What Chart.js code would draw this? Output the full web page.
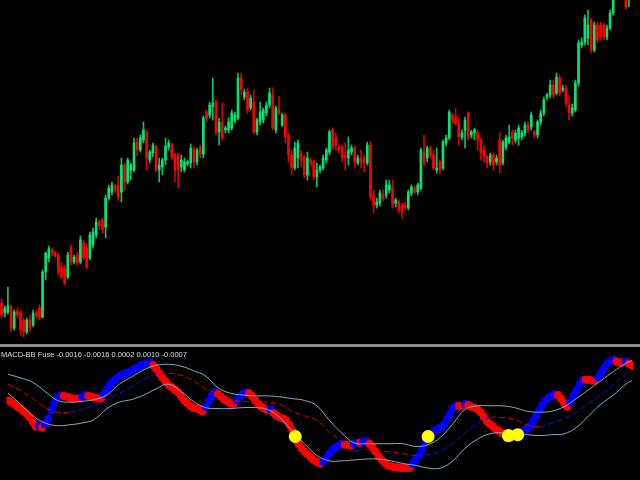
<!DOCTYPE html>
<html>
<head>
<meta charset="utf-8">
<script src="https://cdn.jsdelivr.net/npm/chart.js@4.4.1/dist/chart.umd.min.js"></script>
<style>
  html, body { margin: 0; padding: 0; background: #000; }
  #wrap { position: relative; width: 640px; height: 480px; overflow: hidden; background: #000; }
  #price-chart { position: absolute; left: 0; top: 0; }
  #sep { position: absolute; left: 0; top: 344px; width: 640px; height: 3px; background: #8c8c8c; }
  #macd-chart { position: absolute; left: 0; top: 347px; }
  #macd-label {
    position: absolute; left: 1px; top: 351px; z-index: 2;
    font: 7.5px 'Liberation Sans', Arial, sans-serif; line-height: 7.5px;
    color: #dcdcdc; white-space: nowrap;
  }
</style>
</head>
<body>
<div id="wrap">
  <canvas id="price-chart" width="640" height="344"></canvas>
  <div id="sep"></div>
  <canvas id="macd-chart" width="640" height="133"></canvas>
  <div id="macd-label">MACD-BB Fuse -0.0016 -0.0016 0.0002 0.0010 -0.0007</div>
</div>
<script>
//
// Price data (points, x0.0001)
//
const opens = [
  10897, 10887, 10888, 10893, 10872, 10889, 10887, 10880, 10868, 10880,
  10875, 10887, 10892, 10883, 10928, 10942, 10950, 10947, 10945, 10933,
  10932, 10923, 10952, 10938, 10945, 10938, 10957, 10952, 10942, 10955,
  10965, 10978, 10980, 10973, 11002, 11008, 11014, 11015, 11008, 11035,
  11018, 11030, 11030, 11058, 11050, 11060, 11068, 11040, 11047, 11053,
  11030, 11033, 11040, 11053, 11055, 11045, 11045, 11033, 11030, 11036,
  11037, 11051, 11038, 11053, 11046, 11088, 11085, 11093, 11098, 11068,
  11077, 11070, 11070, 11072, 11080, 11082, 11122, 11103, 11108, 11092,
  11098, 11068, 11078, 11080, 11087, 11095, 11105, 11070, 11090, 11075,
  11085, 11065, 11045, 11032, 11042, 11047, 11043, 11025, 11040, 11038,
  11023, 11030, 11032, 11040, 11048, 11070, 11063, 11053, 11053, 11045,
  11042, 11048, 11052, 11037, 11042, 11042, 11037, 11055, 11005, 10995,
  10997, 11005, 11005, 11010, 11012, 10997, 10998, 10995, 10995, 10992,
  11007, 11012, 11008, 11012, 11048, 11042, 11052, 11045, 11030, 11038,
  11032, 11057, 11062, 11085, 11083, 11077, 11063, 11070, 11087, 11065,
  11067, 11068, 11060, 11050, 11043, 11038, 11045, 11038, 11060, 11037,
  11053, 11058, 11068, 11060, 11062, 11063, 11067, 11075, 11073, 11068,
  11065, 11078, 11087, 11103, 11105, 11115, 11107, 11122, 11110, 11112,
  11095, 11087, 11090, 11117, 11155, 11158, 11162, 11180, 11150, 11175,
  11175, 11175, 11163, 11172, 11187, 11205, 11235, 11225, 11205, 11205,
  11220, 11240, 11228
];
const highs = [
  10901, 10894, 10913, 10895, 10890, 10892, 10890, 10882, 10882, 10885,
  10890, 10889, 10895, 10930, 10948, 10954, 10952, 10949, 10947, 10938,
  10935, 10948, 10955, 10945, 10948, 10964, 10960, 10956, 10968, 10972,
  10982, 10980, 10982, 11005, 11015, 11018, 11016, 11024, 11042, 11037,
  11042, 11037, 11062, 11062, 11065, 11078, 11070, 11050, 11057, 11055,
  11042, 11042, 11062, 11060, 11057, 11047, 11047, 11045, 11042, 11040,
  11056, 11053, 11052, 11055, 11084, 11090, 11098, 11122, 11100, 11082,
  11097, 11074, 11082, 11090, 11088, 11127, 11127, 11111, 11112, 11105,
  11110, 11082, 11098, 11092, 11098, 11112, 11112, 11094, 11104, 11087,
  11087, 11067, 11050, 11058, 11060, 11050, 11045, 11048, 11042, 11040,
  11037, 11035, 11045, 11052, 11070, 11072, 11067, 11055, 11055, 11057,
  11063, 11055, 11054, 11045, 11050, 11045, 11058, 11058, 11010, 11002,
  11010, 11010, 11020, 11020, 11020, 11002, 11000, 10997, 10998, 11010,
  11015, 11014, 11017, 11052, 11065, 11054, 11054, 11050, 11052, 11040,
  11060, 11065, 11090, 11087, 11092, 11082, 11070, 11083, 11088, 11070,
  11072, 11070, 11062, 11055, 11045, 11047, 11047, 11045, 11067, 11060,
  11065, 11075, 11070, 11070, 11075, 11070, 11078, 11078, 11088, 11070,
  11080, 11090, 11103, 11107, 11120, 11120, 11127, 11125, 11115, 11115,
  11105, 11096, 11120, 11160, 11162, 11185, 11190, 11182, 11178, 11178,
  11178, 11177, 11175, 11190, 11210, 11235, 11238, 11230, 11210, 11225,
  11245, 11248, 11250
];
const lows = [
  10882, 10883, 10886, 10868, 10870, 10882, 10865, 10863, 10866, 10869,
  10873, 10882, 10880, 10882, 10920, 10938, 10944, 10942, 10925, 10921,
  10915, 10921, 10935, 10936, 10935, 10936, 10940, 10931, 10940, 10952,
  10962, 10970, 10967, 10962, 11000, 11005, 11007, 11000, 10998, 11010,
  11016, 11020, 11028, 11044, 11048, 11057, 11030, 11037, 11043, 11028,
  11018, 11025, 11035, 11050, 11040, 11018, 11012, 11028, 11028, 11034,
  11032, 11032, 11035, 11042, 11042, 11078, 11082, 11080, 11065, 11055,
  11060, 11067, 11067, 11070, 11077, 11080, 11105, 11100, 11087, 11090,
  11066, 11065, 11075, 11077, 11084, 11092, 11070, 11067, 11085, 11073,
  11057, 11038, 11025, 11030, 11032, 11033, 11022, 11020, 11034, 11020,
  11013, 11027, 11030, 11037, 11045, 11050, 11050, 11047, 11038, 11030,
  11035, 11045, 11032, 11035, 11032, 11028, 11035, 11001, 10987, 10992,
  10994, 10999, 11002, 11007, 10992, 10993, 10987, 10982, 10990, 10990,
  11004, 11006, 11005, 11010, 11034, 11038, 11042, 11030, 11027, 11026,
  11030, 11054, 11060, 11077, 11075, 11055, 11060, 11052, 11060, 11062,
  11060, 11050, 11040, 11038, 11032, 11035, 11030, 11035, 11027, 11035,
  11050, 11056, 11055, 11057, 11055, 11060, 11064, 11067, 11070, 11062,
  11062, 11075, 11084, 11100, 11102, 11102, 11105, 11104, 11108, 11093,
  11080, 11084, 11088, 11114, 11152, 11155, 11155, 11147, 11148, 11157,
  11160, 11160, 11160, 11170, 11185, 11202, 11210, 11203, 11191, 11193,
  11215, 11222, 11225
];
const closes = [
  10885, 10892, 10894, 10872, 10888, 10885, 10870, 10868, 10880, 10872,
  10887, 10884, 10882, 10928, 10947, 10951, 10947, 10944, 10928, 10923,
  10917, 10945, 10938, 10943, 10937, 10960, 10942, 10933, 10965, 10968,
  10978, 10974, 10970, 11002, 11012, 11015, 11010, 11003, 11035, 11018,
  11040, 11035, 11057, 11050, 11062, 11070, 11042, 11048, 11055, 11030,
  11035, 11040, 11054, 11057, 11043, 11030, 11030, 11040, 11038, 11038,
  11052, 11038, 11050, 11046, 11082, 11081, 11095, 11097, 11068, 11078,
  11062, 11072, 11078, 11087, 11085, 11122, 11110, 11108, 11090, 11102,
  11068, 11080, 11088, 11090, 11095, 11107, 11072, 11092, 11087, 11085,
  11063, 11045, 11032, 11052, 11057, 11040, 11025, 11042, 11037, 11023,
  11030, 11033, 11042, 11050, 11068, 11053, 11055, 11050, 11043, 11042,
  11050, 11052, 11038, 11042, 11038, 11037, 11055, 11003, 10995, 10998,
  11007, 11002, 11015, 11015, 10995, 11000, 10990, 10988, 10992, 11008,
  11013, 11008, 11015, 11050, 11037, 11052, 11045, 11032, 11032, 11030,
  11058, 11062, 11088, 11080, 11077, 11063, 11067, 11080, 11063, 11068,
  11070, 11060, 11048, 11043, 11037, 11045, 11035, 11042, 11035, 11058,
  11062, 11063, 11062, 11067, 11072, 11067, 11075, 11070, 11085, 11065,
  11078, 11087, 11100, 11105, 11115, 11105, 11123, 11107, 11112, 11097,
  11087, 11092, 11117, 11157, 11158, 11182, 11175, 11150, 11175, 11160,
  11163, 11163, 11172, 11187, 11205, 11230, 11220, 11208, 11193, 11220,
  11240, 11228, 11245
];

//
// MACD-BB Fuse data
//
const macdValues = [
  21, 19, 17, 14, 12, 9, 6, 2, -3, -8,
  -7, -9, -5, 1, 10, 18, 24, 27, 26, 25,
  24, 23, 23, 23, 25, 27, 26, 25, 24, 23,
  23, 28, 33, 38, 42, 45, 48, 50, 51, 52,
  54, 56, 58, 60, 61, 62, 63, 60, 56, 51,
  46, 42, 38, 36, 33, 30, 26, 21, 18, 15,
  13, 12, 11, 9, 14, 20, 26, 30, 28, 25,
  22, 20, 18, 17, 21, 25, 28, 30, 29, 26,
  21, 17, 14, 12, 10, 11, 7, 4, 2, 1,
  -1, -6, -12, -19, -27, -32, -36, -39, -42, -45,
  -47, -49, -47, -43, -38, -34, -31, -29, -27, -28,
  -28, -29, -27, -26, -26, -25, -24, -27, -31, -36,
  -41, -45, -48, -51, -52, -53, -53, -54, -54, -54,
  -54, -49, -45, -40, -33, -26, -19, -15, -13, -11,
  -9, -6, 0, 6, 12, 15, 15, 15, 17, 16,
  14, 13, 11, 8, 3, -2, -5, -8, -11, -13,
  -15, -17, -18, -20, -19, -17, -15, -13, -10, -7,
  -2, 4, 10, 16, 21, 24, 26, 28, 27, 23,
  18, 14, 19, 26, 32, 38, 44, 44, 44, 43,
  43, 46, 51, 57, 62, 65, 66, 64, 63, 63,
  64, 62, 60
];
// bands sampled every 4 bars (last one on the final bar)
const bandStep = 4;
const upperBand = [50, 46, 41, 31, 21, 19, 20, 22, 27, 39, 47, 55, 60, 61, 59, 54, 48, 35, 29, 27,
  26, 26, 25, 23, 21, 15, -1, -15, -26, -27, -27, -27, -27, -30, -28, -20, -5, 11, 15, 15,
  15, 13, 9, 8, 9, 14, 23, 33, 43, 53, 62, 65];
const midBand = [39, 32, 23, 13, 8, 8, 11, 16, 21, 29, 36, 45, 50, 51, 49, 43, 34, 28, 22, 20,
  20, 19, 17, 9, 4, -1, -14, -24, -34, -33, -35, -36, -38, -40, -39, -35, -27, -15, -4, 2,
  2, 0, -6, -8, -4, 1, 8, 18, 27, 39, 50, 54];
const lowerBand = [29, 17, 4, -4, -7, -6, -4, 0, 12, 19, 22, 27, 34, 39, 31, 20, 13, 12, 12, 13,
  13, 11, 2, -13, -27, -40, -46, -46, -45, -44, -44, -46, -49, -51, -54, -54, -46, -32, -22, -16,
  -15, -17, -17, -18, -17, -16, -9, 4, 17, 27, 39, 43];
const crossBars = [93, 136, 162, 165];

const N = closes.length;

//
// Candles
//
const priceCanvas = document.getElementById('price-chart');
const isUp = closes.map((c, i) => c > opens[i]);
const bodyColors = isUp.map(u => u ? '#00e676' : '#ff0000');
const wickColors = isUp.map(u => u ? '#00c864' : '#d80000');

let priceChart = new Chart(priceCanvas, {
    type: 'bar',
    data: {
        labels: closes.map((_, i) => i),
        datasets: [{
            data: lows.map((l, i) => [l, highs[i]]),
            backgroundColor: wickColors,
            barThickness: 1,
            grouped: false,
            order: 2
        }, {
            data: opens.map((o, i) => [o, closes[i]]),
            backgroundColor: bodyColors,
            barThickness: 2,
            minBarLength: 1,
            grouped: false,
            order: 1
        }]
    },
    options: {
        responsive: false,
        animation: false,
        events: [],
        layout: { padding: 0 },
        scales: {
            x: { display: false, offset: true },
            y: { display: false, min: 10856, max: 11200 }
        },
        plugins: {
            legend: { display: false },
            tooltip: { enabled: false }
        }
    }
});

//
// MACD-BB panel
//
const macdCanvas = document.getElementById('macd-chart');
const bandColor = '#7fafc8';
const dotColors = macdValues.map((v, i) => (i > 0 && v > macdValues[i - 1]) ? '#0000ff' : '#ff0000');
const bandPoints = arr => arr.map((v, k) => ({ x: Math.min(k * bandStep, N - 1), y: v }));

let macdChart = new Chart(macdCanvas, {
    type: 'line',
    data: {
        datasets: [{
            data: crossBars.map(i => ({ x: i, y: macdValues[i] })),
            showLine: false,
            pointRadius: 6.5,
            pointBackgroundColor: '#ffff00',
            pointBorderWidth: 0,
            order: 0
        }, {
            data: bandPoints(upperBand),
            borderColor: bandColor,
            borderWidth: 1,
            pointRadius: 0,
            tension: 0.4,
            order: 1
        }, {
            data: bandPoints(lowerBand),
            borderColor: bandColor,
            borderWidth: 1,
            pointRadius: 0,
            tension: 0.4,
            order: 1
        }, {
            data: bandPoints(midBand),
            borderColor: '#d00000',
            borderWidth: 1,
            borderDash: [6, 3],
            pointRadius: 0,
            tension: 0.4,
            segment: {
                borderColor: ctx => ctx.p1.parsed.y > ctx.p0.parsed.y ? '#1010e0' : '#d00000'
            },
            order: 1
        }, {
            data: macdValues.map((v, i) => ({ x: i, y: v })),
            showLine: false,
            pointRadius: 4,
            pointBackgroundColor: dotColors,
            pointBorderWidth: 0,
            order: 2
        }]
    },
    options: {
        responsive: false,
        animation: false,
        events: [],
        layout: { padding: 0 },
        scales: {
            x: { type: 'linear', display: false, min: -0.5, max: N - 0.5 },
            y: { display: false, min: -60, max: 73 }
        },
        plugins: {
            legend: { display: false },
            tooltip: { enabled: false }
        }
    }
});
</script>
</body>
</html>
